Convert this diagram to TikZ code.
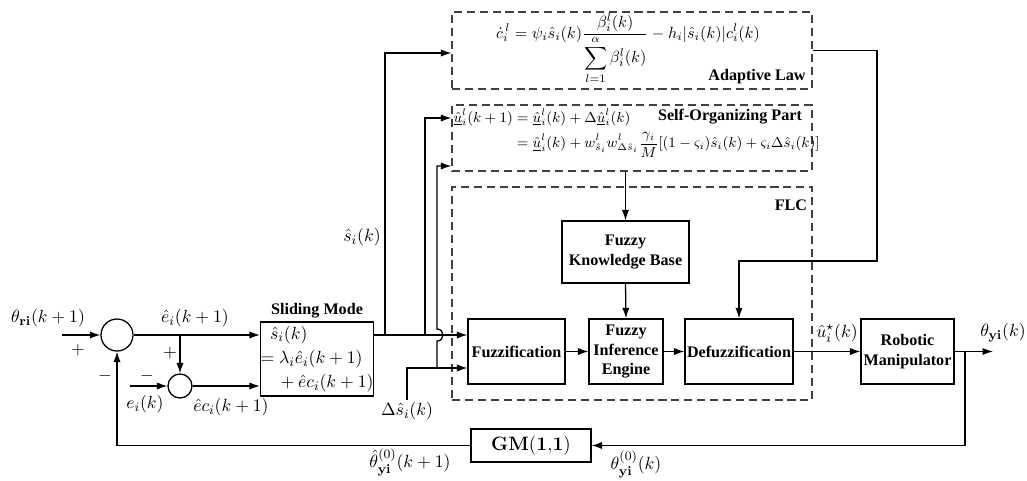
\documentclass[tikz,border=0pt]{standalone}
\usepackage{amsmath}
\usepackage[no-math]{fontspec}
\setmainfont{Liberation Serif}
\usetikzlibrary{arrows.meta,calc}

\begin{document}
\begin{tikzpicture}[x=0.62pt,y=-0.62pt,
  line width=0.8pt,
  >={Latex[length=6.5pt,width=4.5pt]},
  blk/.style={draw, line width=0.8pt, align=center, inner sep=0pt,
    font=\bfseries\fontsize{10}{11.8}\selectfont},
  sz/.style 2 args={minimum width=#1*0.62pt, minimum height=#2*0.62pt},
  dbox/.style={draw=black!75, dash pattern=on 5pt off 3pt, line width=0.8pt, inner sep=0pt},
  sumj/.style={draw, circle, inner sep=0pt, minimum size=#1*0.62pt},
  lbl/.style={font=\fontsize{11}{13}\selectfont, inner sep=0pt},
  btitle/.style={font=\bfseries\fontsize{10}{12}\selectfont, inner sep=0pt}
]
\useasboundingbox (0,0) rectangle (1027,480);

% dashed groups
\node[dbox, sz={360}{77}] (ad) at (632,50.5) {};
\node[dbox, sz={360}{66}] (so) at (632,138) {};
\node[dbox, sz={360}{213}] (flc) at (632,293.5) {};

\node[inner sep=0pt, anchor=base, font=\fontsize{10}{12}\selectfont] (adeq) at (628,38)
  {$\displaystyle \dot{c}^{\,l}_i=\psi_i\hat{s}_i(k)\frac{\beta^l_i(k)}{\displaystyle\sum_{l=1}^{\alpha}\beta^l_i(k)}-h_i|\hat{s}_i(k)|c^l_i(k)$};
\node[btitle] (adt) at (757,77) {Adaptive Law};

\node[inner sep=0pt, font=\fontsize{9}{11}\selectfont, anchor=west] (soeq) at (453,133)
  {$\begin{aligned}\underline{\hat{u}}^l_i(k+1)&=\underline{\hat{u}}^l_i(k)+\Delta\underline{\hat{u}}^l_i(k)\\[-1pt]
  &=\underline{\hat{u}}^l_i(k)+w^l_{\hat{s}_i}w^l_{\Delta\hat{s}_i}\frac{\gamma_i}{M}[(1-\varsigma_i)\hat{s}_i(k)+\varsigma_i\Delta\hat{s}_i(k)]\end{aligned}$};
\node[btitle] (sot) at (730,117) {Self-Organizing Part};
\node[btitle] (flct) at (791,205) {FLC};

% blocks
\node[blk, sz={104}{74}, align=left, font=\fontsize{11}{15}\selectfont] (sm) at (317,359)
  {\hspace*{6pt}$\hat{s}_i(k)$\\$=\lambda_i\hat{e}_i(k+1)$\\\hspace*{10pt}${}+\hat{e}c_i(k+1)$};
\node[btitle] (smt) at (317,311) {Sliding Mode};
\node[blk, sz={97}{65}] (fz) at (516.5,351.5) {Fuzzification};
\node[blk, sz={127}{62}, font=\bfseries\fontsize{10}{12.4}\selectfont] (fkb) at (625.5,252) {Fuzzy\\Knowledge Base};
\node[blk, sz={74}{65}] (fie) at (626,351.5) {Fuzzy\\Inference\\Engine};
\node[blk, sz={108}{65}] (dfz) at (739,351.5) {Defuzzification};
\node[blk, sz={93}{65}, font=\bfseries\fontsize{10}{12.4}\selectfont] (rm) at (907.5,351.5) {Robotic\\Manipulator};
\node[blk, sz={120}{33}, font=\fontsize{12}{14}\selectfont] (gm) at (531,445.5) {$\mathbf{GM(1{,}1)}$};

% summing junctions
\node[sumj=32] (s1) at (117,335) {};
\node[sumj=24] (s2) at (180,386) {};

% free ends and branch points
\coordinate (rin) at (62,335);
\coordinate (ein) at (130,386);
\coordinate (b0) at (180,335);
\coordinate (b1) at (385,335);
\coordinate (b2) at (425,335);
\coordinate (b3) at (437,368);
\coordinate (c1) at (877,261);
\coordinate (b4) at (965,351.5);
\coordinate (yout) at (993,351.5);

% labels
\node[lbl] (lr) at (48,318) {$\theta_{\mathbf{ri}}(k+1)$};
\node[lbl] (p1) at (78,350) {$+$};
\node[lbl] (m1) at (105,376) {$-$};
\node[lbl] (le) at (195,318) {$\hat{e}_i(k+1)$};
\node[lbl] (p2) at (170,353) {$+$};
\node[lbl] (m2) at (147,376) {$-$};
\node[lbl] (lei) at (145,404) {$e_i(k)$};
\node[lbl] (lec) at (231,407) {$\hat{e}c_i(k+1)$};
\node[lbl] (ls) at (362,237) {$\hat{s}_i(k)$};
\node[lbl] (dsl) at (407,411) {$\Delta\hat{s}_i(k)$};
\node[lbl] (lu) at (837,333) {$\hat{u}^{\star}_i(k)$};
\node[lbl] (ly) at (1003,333) {$\theta_{\mathbf{yi}}(k)$};
\node[lbl] (lth) at (410,462) {$\hat{\theta}^{(0)}_{\mathbf{yi}}(k+1)$};
\node[lbl] (lt) at (636,464) {$\theta^{(0)}_{\mathbf{yi}}(k)$};

% connectors
\draw[->] (rin) -- (s1.west);
\draw[->] (s1.east) -- (sm.west |- s1.east);
\draw[->] (b0) -- (s2.north);
\draw[->] (ein) -- (s2.west);
\draw[->] (s2.east) -- (sm.west |- s2.east);
\draw[->] ($(sm.east)+(0,-24)$) -- ($(fz.west)+(0,-16.5)$);
\draw[->] (b1) |- ($(ad.west)+(0,2.5)$);
\draw[->] (b2) |- ($(so.west)+(0,-20)$);
\draw[->] ($(dsl.north)+(0,-2)$) |- ($(fz.west)+(0,16.5)$);
\draw[->] (b3) -- (437,341) .. controls (445,341) and (445,329) .. (437,329) |- ($(so.west)+(0,28)$);
\draw[->] (fkb.north |- so.south) -- (fkb.north);
\draw[->] (fkb.south) -- (fie.north);
\draw[->] (fz.east) -- (fie.west);
\draw[->] (fie.east) -- (dfz.west);
\draw[->] (ad.east) -| (c1) -| (dfz.north);
\draw[->] (dfz.east) -- (rm.west);
\draw[->] (rm.east) -- (yout);
\draw[->] (b4) |- (gm.east);
\draw[->] (gm.west) -| (s1.south);
\end{tikzpicture}
\end{document}
